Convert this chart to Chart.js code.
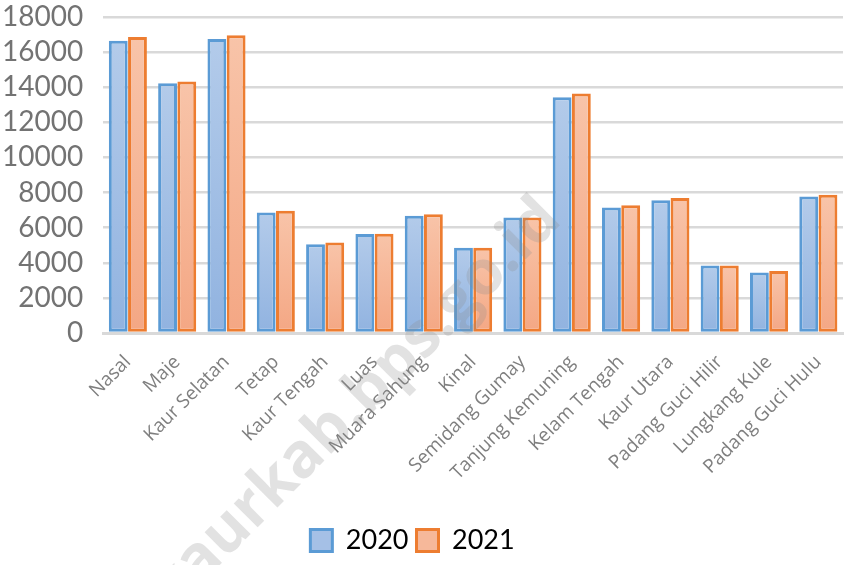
<!DOCTYPE html>
<html>
<head>
<meta charset="utf-8">
<script src="https://cdn.jsdelivr.net/npm/chart.js@4.4.0/dist/chart.umd.min.js"></script>
<style>
    html, body { margin: 0; padding: 0; background: #fff; }
    #wrap { width: 846px; height: 565px; }
</style>
</head>
<body>
<div id="wrap"><canvas id="kaurChart" width="846" height="565"></canvas></div>
<script>
var categories = ['Nasal', 'Maje', 'Kaur Selatan', 'Tetap', 'Kaur Tengah', 'Luas', 'Muara Sahung', 'Kinal',
    'Semidang Gumay', 'Tanjung Kemuning', 'Kelam Tengah', 'Kaur Utara', 'Padang Guci Hilir', 'Lungkang Kule', 'Padang Guci Hulu'];
var values2020 = [16650, 14230, 16750, 6870, 5060, 5640, 6680, 4850, 6580, 13430, 7150, 7560, 3840, 3450, 7770];
var values2021 = [16860, 14330, 16960, 6960, 5160, 5650, 6770, 4850, 6580, 13640, 7270, 7690, 3850, 3530, 7880];
var yTicks = [0, 2000, 4000, 6000, 8000, 10000, 12000, 14000, 16000, 18000];
var seriesLabels = ['2020', '2021'];

// gradient per bar, light at the top, darker at the base
function barGradient(light, dark, solid) {
    return function (context) {
        var chart = context.chart;
        var area = chart.chartArea;
        var y = chart.scales.y;
        if (!area || !y || context.raw === undefined) {
            return solid;
        }
        var top = y.getPixelForValue(context.raw);
        var g = chart.ctx.createLinearGradient(0, top, 0, area.bottom);
        g.addColorStop(0, light);
        g.addColorStop(1, dark);
        return g;
    };
}

var watermark = {
    id: 'watermark',
    afterDraw: function (chart) {
        var ctx = chart.ctx;
        ctx.save();
        ctx.translate(355, 405);
        ctx.rotate(-Math.PI / 4);
        ctx.font = 'bold 62px "Open Sans"';
        ctx.fillStyle = 'rgba(140,140,140,0.25)';
        ctx.textAlign = 'center';
        ctx.textBaseline = 'middle';
        ctx.fillText('kaurkab.bps.go.id', 0, 0);
        ctx.restore();
    }
};

var ctx = document.getElementById('kaurChart').getContext('2d');
var kaurChart = new Chart(ctx, {
    type: 'bar',
    data: {
        labels: categories,
        datasets: [{
            label: seriesLabels[0],
            data: values2020,
            backgroundColor: barGradient('#b3cbea', '#91b3e0', '#a5c0e6'),
            borderColor: '#5b9bd5',
            borderWidth: 3,
            borderSkipped: false,
            categoryPercentage: 0.78,
            barPercentage: 0.98
        }, {
            label: seriesLabels[1],
            data: values2021,
            backgroundColor: barGradient('#f8c4a9', '#f4a784', '#f6b89a'),
            borderColor: '#ed7d31',
            borderWidth: 3,
            borderSkipped: false,
            categoryPercentage: 0.78,
            barPercentage: 0.98
        }]
    },
    options: {
        responsive: false,
        animation: false,
        layout: {
            padding: { top: 17, left: -18, right: 3, bottom: 1 }
        },
        scales: {
            x: {
                grid: { display: false },
                border: { display: true, color: '#d9d9d9', width: 3 },
                ticks: {
                    color: '#7f7f7f',
                    font: { family: '"Open Sans"', size: 19 },
                    maxRotation: 45,
                    minRotation: 45,
                    autoSkip: false,
                    padding: 10
                },
                afterFit: function (axis) {
                    axis.height = 186;
                }
            },
            y: {
                min: 0,
                max: 18000,
                afterBuildTicks: function (axis) {
                    axis.ticks = yTicks.map(function (v) { return { value: v }; });
                },
                afterFit: function (axis) {
                    // tick padding otherwise pushes the plot down
                    axis.paddingTop = 0;
                    axis.paddingBottom = 0;
                },
                grid: { color: '#d9d9d9', lineWidth: 2.5, drawTicks: false },
                border: { display: false },
                ticks: {
                    color: '#737373',
                    font: { family: 'Lato', size: 28 },
                    padding: 20,
                    autoSkip: false,
                    callback: function (value) { return String(value); }
                }
            }
        },
        plugins: {
            legend: {
                position: 'bottom',
                labels: {
                    color: '#737373',
                    font: { family: 'Lato', size: 27 },
                    boxWidth: 22,
                    boxHeight: 22,
                    padding: 8,
                    generateLabels: function (chart) {
                        return [
                            { text: seriesLabels[0], fillStyle: '#a5c0e6', strokeStyle: '#5b9bd5', lineWidth: 3, datasetIndex: 0 },
                            { text: seriesLabels[1], fillStyle: '#f6b89a', strokeStyle: '#ed7d31', lineWidth: 3, datasetIndex: 1 }
                        ];
                    }
                }
            },
            tooltip: { enabled: false }
        }
    },
    plugins: [watermark]
});
</script>
</body>
</html>
